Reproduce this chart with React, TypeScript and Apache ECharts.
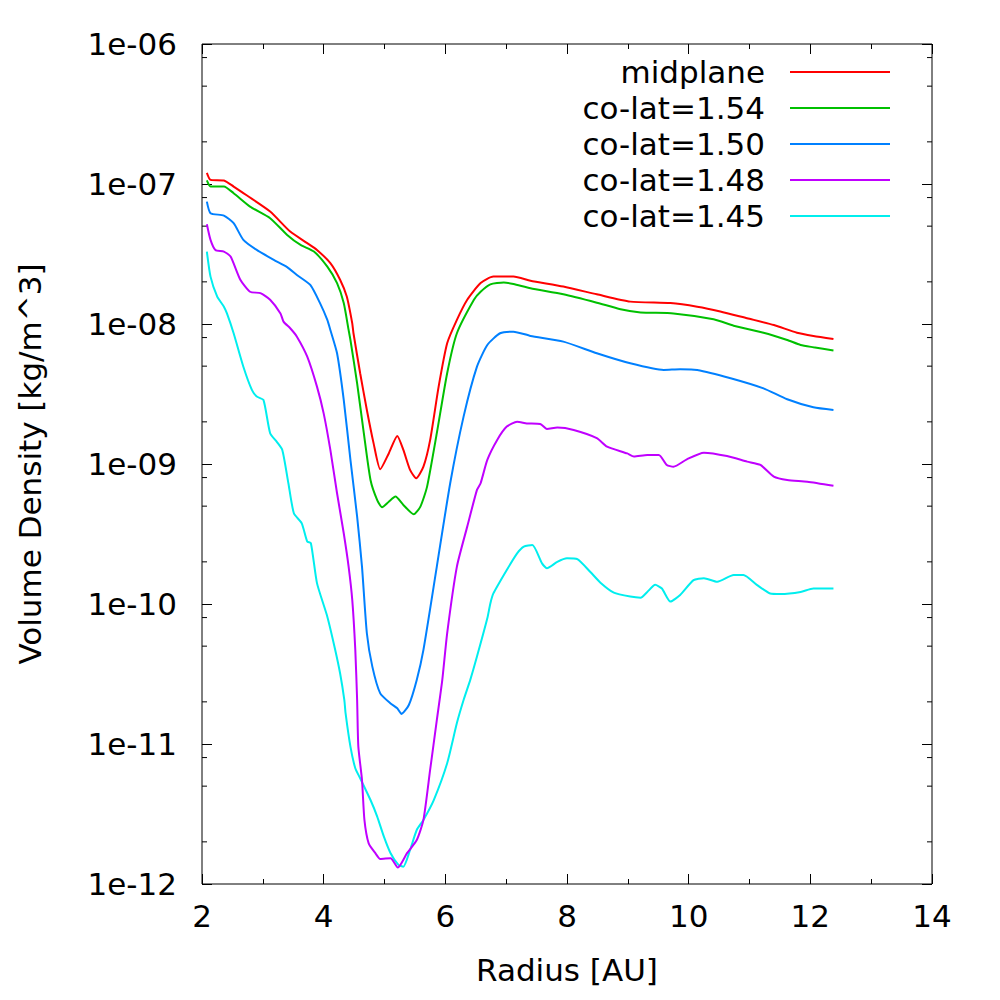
import React, { useEffect, useRef } from "react";
import * as echarts from "echarts";

// ---- data (x: Radius [AU], y: density [kg/m^3]) ----
const seriesNames = ["midplane", "co-lat=1.54", "co-lat=1.50", "co-lat=1.48", "co-lat=1.45"];
const seriesColors = ["#ff0000", "#00c000", "#0080ff", "#c000ff", "#00eeee"];

const midplane: [number, number][] = [
  [2.08, 1.2e-7], [2.14, 1.07e-7], [2.36, 1.06e-7], [2.52, 9.59e-8], [2.74, 8.27e-8],
  [3.12, 6.36e-8], [3.45, 4.57e-8], [3.73, 3.78e-8], [3.89, 3.38e-8], [4.11, 2.72e-8],
  [4.27, 2.07e-8], [4.38, 1.57e-8], [4.47, 1.01e-8], [4.49, 8.59e-9], [4.6, 4.45e-9],
  [4.71, 2.43e-9], [4.82, 1.41e-9], [4.93, 9.17e-10], [5.07, 1.19e-9], [5.21, 1.585e-9],
  [5.31, 1.26e-9], [5.42, 9.07e-10], [5.52, 7.91e-10], [5.64, 9.58e-10], [5.75, 1.48e-9],
  [5.89, 3.57e-9], [6.03, 7.28e-9], [6.19, 1.07e-8], [6.36, 1.49e-8], [6.58, 1.96e-8],
  [6.79, 2.18e-8], [7.12, 2.18e-8], [7.4, 2.04e-8], [7.94, 1.85e-8], [8.49, 1.63e-8],
  [9.04, 1.445e-8], [9.7, 1.41e-8], [10.14, 1.33e-8], [10.52, 1.23e-8], [10.96, 1.1e-8],
  [11.4, 9.84e-9], [11.78, 8.67e-9], [12.05, 8.22e-9], [12.38, 7.82e-9],
];

const colat154: [number, number][] = [
  [2.08, 1.06e-7], [2.14, 9.59e-8], [2.36, 9.59e-8], [2.52, 8.6e-8], [2.79, 6.9e-8],
  [3.12, 5.7e-8], [3.4, 4.33e-8], [3.62, 3.67e-8], [3.84, 3.29e-8], [4.06, 2.57e-8],
  [4.22, 1.96e-8], [4.33, 1.41e-8], [4.41, 9.07e-9], [4.44, 7.69e-9], [4.55, 3.77e-9],
  [4.66, 1.66e-9], [4.77, 7.69e-10], [4.88, 5.53e-10], [4.96, 4.91e-10], [5.07, 5.38e-10],
  [5.18, 5.85e-10], [5.31, 5.1e-10], [5.48, 4.375e-10], [5.59, 4.96e-10], [5.7, 6.89e-10],
  [5.86, 1.66e-9], [6.03, 4.45e-9], [6.19, 8.59e-9], [6.47, 1.49e-8], [6.58, 1.7e-8],
  [6.74, 1.92e-8], [6.96, 1.98e-8], [7.12, 1.93e-8], [7.4, 1.8e-8], [7.94, 1.63e-8],
  [8.49, 1.42e-8], [8.88, 1.275e-8], [9.21, 1.21e-8], [9.75, 1.19e-8], [10.41, 1.08e-8],
  [10.74, 9.73e-9], [11.23, 8.67e-9], [11.62, 7.69e-9], [11.84, 7.08e-9], [12.05, 6.82e-9],
  [12.38, 6.46e-9],
];

const colat150: [number, number][] = [
  [2.08, 7.49e-8], [2.14, 6.19e-8], [2.36, 5.95e-8], [2.52, 5.25e-8], [2.68, 3.99e-8],
  [2.9, 3.38e-8], [3.18, 2.87e-8], [3.4, 2.55e-8], [3.56, 2.24e-8], [3.78, 1.9e-8],
  [3.94, 1.41e-8], [4.06, 1.07e-8], [4.11, 9.07e-9], [4.22, 6.18e-9], [4.33, 2.87e-9],
  [4.44, 1.07e-9], [4.55, 4.21e-10], [4.63, 1.85e-10], [4.71, 6.18e-11], [4.8, 3.57e-11],
  [4.93, 2.3e-11], [5.1, 1.95e-11], [5.21, 1.8e-11], [5.28, 1.64e-11], [5.4, 1.9e-11],
  [5.53, 2.87e-11], [5.64, 4.7e-11], [5.86, 1.85e-10], [6.08, 7.29e-10], [6.3, 2.18e-9],
  [6.52, 4.96e-9], [6.69, 7.08e-9], [6.9, 8.59e-9], [7.12, 8.82e-9], [7.4, 8.22e-9],
  [7.94, 7.48e-9], [8.49, 6.18e-9], [9.04, 5.24e-9], [9.59, 4.7e-9], [9.86, 4.75e-9],
  [10.14, 4.7e-9], [10.69, 4.1e-9], [11.23, 3.47e-9], [11.62, 2.9e-9], [12.05, 2.54e-9],
  [12.38, 2.43e-9],
];

const colat148: [number, number][] = [
  [2.08, 5.16e-8], [2.14, 3.99e-8], [2.22, 3.38e-8], [2.36, 3.29e-8], [2.47, 3.03e-8],
  [2.63, 2.07e-8], [2.79, 1.7e-8], [2.96, 1.66e-8], [3.12, 1.49e-8], [3.29, 1.19e-8],
  [3.34, 1.04e-8], [3.45, 9.32e-9], [3.56, 8.12e-9], [3.73, 5.84e-9], [3.89, 3.57e-9],
  [4.0, 2.3e-9], [4.11, 1.26e-9], [4.22, 6.18e-10], [4.33, 3.2e-10], [4.41, 1.85e-10],
  [4.47, 1.07e-10], [4.52, 4.7e-11], [4.55, 2.06e-11], [4.57, 9.57e-12], [4.63, 5.53e-12],
  [4.67, 2.87e-12], [4.74, 1.95e-12], [4.85, 1.66e-12], [4.93, 1.51e-12], [5.1, 1.53e-12],
  [5.22, 1.31e-12], [5.37, 1.66e-12], [5.53, 2.06e-12], [5.64, 2.87e-12], [5.75, 6.53e-12],
  [5.86, 1.48e-11], [5.95, 2.87e-11], [6.03, 6.18e-11], [6.19, 1.85e-10], [6.36, 3.57e-10],
  [6.52, 6.53e-10], [6.58, 7.29e-10], [6.69, 1.07e-9], [6.85, 1.48e-9], [7.01, 1.85e-9],
  [7.18, 2.0e-9], [7.34, 1.95e-9], [7.56, 1.93e-9], [7.67, 1.78e-9], [7.84, 1.82e-9],
  [8.11, 1.75e-9], [8.49, 1.53e-9], [8.66, 1.33e-9], [8.99, 1.19e-9], [9.1, 1.13e-9],
  [9.32, 1.16e-9], [9.51, 1.16e-9], [9.64, 9.84e-10], [9.75, 9.57e-10], [9.97, 1.08e-9],
  [10.25, 1.205e-9], [10.63, 1.14e-9], [10.96, 1.04e-9], [11.18, 9.84e-10], [11.4, 8.12e-10],
  [11.62, 7.69e-10], [11.95, 7.48e-10], [12.38, 7.0e-10],
];

const colat145: [number, number][] = [
  [2.08, 3.29e-8], [2.14, 2.18e-8], [2.25, 1.57e-8], [2.36, 1.33e-8], [2.41, 1.19e-8],
  [2.52, 8.59e-9], [2.68, 4.95e-9], [2.82, 3.38e-9], [2.9, 3.03e-9], [3.01, 2.87e-9],
  [3.12, 1.66e-9], [3.23, 1.44e-9], [3.32, 1.26e-9], [3.42, 7.29e-10], [3.51, 4.45e-10],
  [3.64, 3.77e-10], [3.73, 2.79e-10], [3.79, 2.72e-10], [3.89, 1.41e-10], [4.06, 8.12e-11],
  [4.19, 4.7e-11], [4.27, 3.2e-11], [4.34, 2.06e-11], [4.36, 1.66e-11], [4.44, 9.57e-12],
  [4.52, 6.71e-12], [4.6, 5.69e-12], [4.77, 3.98e-12], [4.88, 3.03e-12], [4.99, 2.18e-12],
  [5.1, 1.66e-12], [5.23, 1.37e-12], [5.31, 1.33e-12], [5.42, 1.75e-12], [5.53, 2.43e-12],
  [5.64, 2.87e-12], [5.81, 3.98e-12], [6.03, 7.29e-12], [6.19, 1.41e-11], [6.3, 2.06e-11],
  [6.41, 2.87e-11], [6.52, 4.21e-11], [6.69, 7.9e-11], [6.74, 1.01e-10], [6.79, 1.19e-10],
  [7.01, 1.75e-10], [7.18, 2.3e-10], [7.29, 2.57e-10], [7.43, 2.64e-10], [7.59, 1.95e-10],
  [7.67, 1.8e-10], [7.84, 2.0e-10], [8.0, 2.12e-10], [8.17, 2.09e-10], [8.38, 1.7e-10],
  [8.55, 1.42e-10], [8.77, 1.205e-10], [9.04, 1.13e-10], [9.21, 1.11e-10], [9.32, 1.22e-10],
  [9.45, 1.37e-10], [9.56, 1.29e-10], [9.7, 1.04e-10], [9.86, 1.16e-10], [10.08, 1.48e-10],
  [10.25, 1.53e-10], [10.47, 1.44e-10], [10.74, 1.61e-10], [10.9, 1.61e-10], [11.12, 1.37e-10],
  [11.34, 1.19e-10], [11.51, 1.18e-10], [11.84, 1.22e-10], [12.05, 1.29e-10], [12.38, 1.29e-10],
];

const seriesData = [midplane, colat154, colat150, colat148, colat145];

// axis settings
const X_MIN = 2;
const X_MAX = 14;
const X_INTERVAL = 2;
const Y_MIN = 1e-12;
const Y_MAX = 1e-6;
const minorDecades = [-12, -11, -10, -9, -8, -7];
const minorMantissas = [2, 5, 8];
const minorYTicks: number[] = minorDecades.flatMap((d) => minorMantissas.map((m) => m * Math.pow(10, d)));

const xAxisTitle = "Radius [AU]";
const yAxisTitle = "Volume Density [kg/m^3]";

const FONT = "DejaVu Sans";
const FS = 31;

function fmtExp(v: number): string {
  const e = Math.round(Math.log10(v));
  return "1e" + (e < 0 ? "-" : "+") + String(Math.abs(e)).padStart(2, "0");
}

export default function App() {
  const ref = useRef<HTMLDivElement>(null);
  useEffect(() => {
    if (!ref.current) return;
    const chart = echarts.init(ref.current, undefined, { renderer: "svg" });

    const tickCommon = {
      axisLine: { show: false },
      splitLine: { show: false },
      axisTick: { show: true, inside: true, length: 10, lineStyle: { color: "#000", width: 1 } },
    };

    const legendTop = 72;
    const legendGap = 36;
    const legendGraphics: any[] = [];
    seriesNames.forEach((name, i) => {
      const y = legendTop + legendGap * i;
      legendGraphics.push({
        type: "text",
        x: 765,
        y,
        style: {
          text: name,
          font: `${FS}px "${FONT}"`,
          fill: "#000",
          align: "right",
          verticalAlign: "middle",
        },
      });
      legendGraphics.push({
        type: "line",
        shape: { x1: 790, y1: y, x2: 890, y2: y },
        style: { stroke: seriesColors[i], lineWidth: 2 },
      });
    });

    const option: any = {
      animation: false,
      backgroundColor: "#fff",
      textStyle: { fontFamily: FONT },
      grid: {
        left: 202,
        right: 68,
        top: 44,
        bottom: 116,
        show: true,
        borderColor: "#000",
        borderWidth: 1,
        backgroundColor: "transparent",
      },
      xAxis: [
        {
          type: "value",
          min: X_MIN,
          max: X_MAX,
          interval: X_INTERVAL,
          position: "bottom",
          ...tickCommon,
          minorTick: { show: true, splitNumber: 2, length: 5, lineStyle: { color: "#000", width: 1 } },
          axisLabel: { fontSize: FS, fontFamily: FONT, color: "#000", margin: 16 },
          name: xAxisTitle,
          nameLocation: "middle",
          nameGap: 70,
          nameTextStyle: { fontSize: FS, fontFamily: FONT, color: "#000" },
        },
        {
          type: "value",
          min: X_MIN,
          max: X_MAX,
          interval: X_INTERVAL,
          position: "top",
          ...tickCommon,
          minorTick: { show: true, splitNumber: 2, length: 5, lineStyle: { color: "#000", width: 1 } },
          axisLabel: { show: false },
        },
      ],
      yAxis: [
        {
          type: "log",
          logBase: 10,
          min: Y_MIN,
          max: Y_MAX,
          splitNumber: 6,
          position: "left",
          ...tickCommon,
          axisLabel: { fontSize: FS, fontFamily: FONT, color: "#000", margin: 25, formatter: fmtExp },
          name: yAxisTitle,
          nameLocation: "middle",
          nameGap: 157,
          nameTextStyle: { fontSize: FS, fontFamily: FONT, color: "#000" },
        },
        {
          type: "log",
          logBase: 10,
          min: Y_MIN,
          max: Y_MAX,
          splitNumber: 6,
          position: "right",
          ...tickCommon,
          axisLabel: { show: false },
        },
      ],
      series: [
        ...seriesNames.map((name, i) => ({
          name,
          type: "line",
          xAxisIndex: 0,
          yAxisIndex: 0,
          data: seriesData[i],
          showSymbol: false,
          smooth: 0.2,
          lineStyle: { color: seriesColors[i], width: 2 },
          itemStyle: { color: seriesColors[i] },
          silent: true,
          z: 3 + (seriesNames.length - i),
        })),
        {
          type: "custom",
          name: "minorYTicks",
          xAxisIndex: 0,
          yAxisIndex: 0,
          silent: true,
          data: minorYTicks.map((v) => [X_MIN, v]),
          renderItem: (params: any, api: any) => {
            const v = api.value(1);
            const pL = api.coord([X_MIN, v]);
            const pR = api.coord([X_MAX, v]);
            return {
              type: "group",
              children: [
                { type: "line", shape: { x1: pL[0], y1: pL[1], x2: pL[0] + 5, y2: pL[1] }, style: { stroke: "#000", lineWidth: 1 } },
                { type: "line", shape: { x1: pR[0] - 5, y1: pR[1], x2: pR[0], y2: pR[1] }, style: { stroke: "#000", lineWidth: 1 } },
              ],
            };
          },
        },
      ],
      graphic: legendGraphics,
    };
    chart.setOption(option);
    return () => chart.dispose();
  }, []);

  return (
    <div
      ref={ref}
      style={{ position: "fixed", left: 0, top: 0, width: 1000, height: 1000, background: "#fff" }}
    />
  );
}
